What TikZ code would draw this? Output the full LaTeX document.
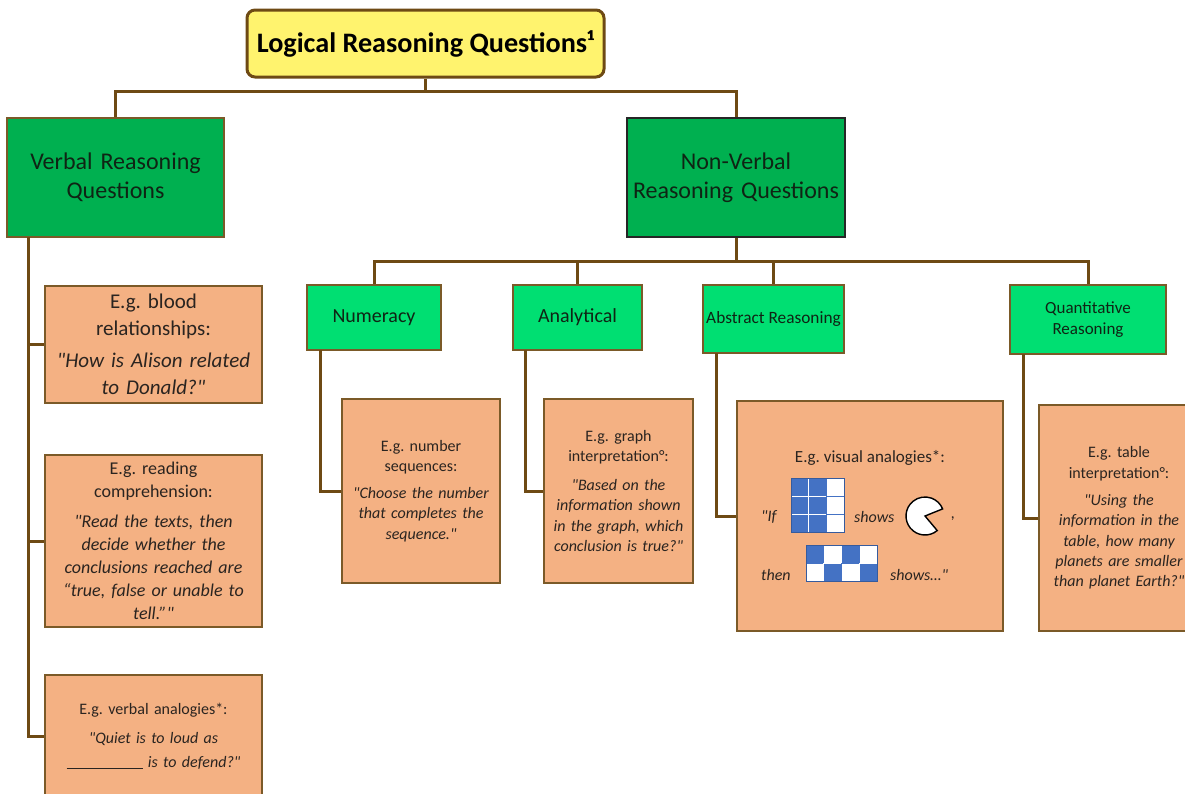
\documentclass[tikz,border=0pt]{standalone}
\usepackage{fontspec}
\setmainfont{Carlito}[Ligatures=TeXOff]
\frenchspacing
\definecolor{conncol}{HTML}{6E4A14}
\definecolor{boxbrown}{HTML}{7B5A28}
\definecolor{titlefill}{HTML}{FFF36E}
\definecolor{greenA}{HTML}{00B050}
\definecolor{greenB}{HTML}{00DF72}
\definecolor{orangeA}{HTML}{F4B183}
\definecolor{txtgreen}{HTML}{0F2414}
\definecolor{txtdark}{HTML}{2A2420}
\definecolor{cellblue}{HTML}{4472C4}
\tikzset{
  conn/.style={draw=conncol, line width=3pt},
  topbox/.style={draw=conncol, line width=3pt, fill=titlefill, rounded corners=8pt, inner sep=0pt,
    font=\fontsize{28.2}{33}\selectfont\bfseries, text=black},
  lvlone/.style={fill=greenA, line width=1.5pt, align=center, inner sep=0pt,
    font=\fontsize{24}{29}\selectfont, text=txtgreen},
  lvltwo/.style={fill=greenB, draw=boxbrown, line width=1.5pt, align=center, inner sep=0pt, text=txtgreen},
  exbox/.style={fill=orangeA, draw=boxbrown, line width=2pt, align=center, inner sep=0pt, text=txtdark},
  freetext/.style={inner sep=0pt, text=txtdark},
  bluecell/.style={fill=cellblue, draw=white, line width=0.8pt},
  whitecell/.style={fill=white, draw=white, line width=0.8pt},
}
\begin{document}
\begin{tikzpicture}[x=1pt,y=-1pt]
\useasboundingbox (0,0) rectangle (1185,793);
% title
\node[topbox, minimum width=357pt, minimum height=67pt] (title) at (425.5,43.5) {Logical Reasoning Questions¹};
% level one
\node[lvlone, draw=boxbrown, minimum width=217pt, minimum height=119pt, text width=210pt] (verbal) at (115.5,177.5) {Verbal Reasoning\\Questions};
\node[lvlone, draw=black!85, minimum width=218pt, minimum height=119pt, text width=214pt] (nonverbal) at (736,177.5) {Non-Verbal\\Reasoning Questions};
% level two
\node[lvltwo, minimum width=134pt, minimum height=65pt, font=\fontsize{20}{24}\selectfont] (numeracy) at (374,317.5) {Numeracy};
\node[lvltwo, minimum width=129pt, minimum height=65pt, font=\fontsize{20}{24}\selectfont] (analytical) at (577.5,317.5) {Analytical};
\node[lvltwo, minimum width=141pt, minimum height=68pt, font=\fontsize{17.3}{20}\selectfont] (abstract) at (773.5,319) {Abstract Reasoning};
\node[lvltwo, minimum width=156pt, minimum height=69pt, text width=150pt, font=\fontsize{17}{21}\selectfont] (quant) at (1088,319.5) {Quantitative\\Reasoning};
% verbal examples
\node[exbox, minimum width=217pt, minimum height=117pt, text width=212pt, font=\fontsize{21}{27}\selectfont] (blood) at (153.5,344.5)
  {E.g. blood\\relationships:\\[5pt]\itshape "How is Alison related\\to Donald?"};
\node[exbox, minimum width=217pt, minimum height=172pt, text width=212pt, font=\fontsize{18}{23}\selectfont] (reading) at (153.5,541)
  {E.g. reading\\comprehension:\\[7pt]\itshape "Read the texts, then\\decide whether the\\conclusions reached are\\“true, false or unable to\\tell.”"};
\node[exbox, minimum width=217pt, minimum height=122pt, text width=212pt, font=\fontsize{16}{24}\selectfont] (analog) at (153.5,736)
  {E.g. verbal analogies*:\\[5pt]\itshape "Quiet is to loud as\\\rule[-1pt]{76pt}{0.7pt} is to defend?"};
% non-verbal examples
\node[exbox, minimum width=158pt, minimum height=184pt, text width=154pt, font=\fontsize{16}{20.5}\selectfont] (numex) at (421,491)
  {E.g. number\\sequences:\\[6pt]\itshape "Choose the number\\that completes the\\sequence."};
\node[exbox, minimum width=149pt, minimum height=184pt, text width=145pt, font=\fontsize{16}{20.5}\selectfont] (anex) at (618.5,491)
  {E.g. graph\\interpretation°:\\[8pt]\itshape "Based on the\\information shown\\in the graph, which\\conclusion is true?"};
\node[exbox, minimum width=266pt, minimum height=230pt] (absex) at (870,516) {};
\node[exbox, minimum width=160pt, minimum height=226pt, text width=154pt, font=\fontsize{16}{20.3}\selectfont, anchor=west] (quantex) at (1038,518)
  {E.g. table\\interpretation°:\\[7pt]\itshape "Using the\\information in the\\table, how many\\planets are smaller\\than planet Earth?"};
% abstract example content
\node[freetext, font=\fontsize{17}{20}\selectfont] (abstitle) at (870,458) {E.g. visual analogies*:};
\node[freetext, font=\fontsize{16}{20}\selectfont\itshape, anchor=west] (ifw) at (761,517) {"If};
\node[freetext, font=\fontsize{16}{20}\selectfont\itshape, anchor=west] (shows1) at (854,517) {shows};
\node[freetext, font=\fontsize{16}{20}\selectfont\itshape, anchor=west] (comma) at (951,519) {,};
\node[freetext, font=\fontsize{16}{20}\selectfont\itshape, anchor=west] (then) at (761,575) {then};
\node[freetext, font=\fontsize{16}{20}\selectfont\itshape, anchor=west] (shows2) at (890,575) {shows…"};
% grid 1 (3x3, two blue columns)
\foreach \r in {0,1,2}{
  \foreach \c in {0,1}{
    \path[bluecell] (791+\c*17.67,478+\r*18) rectangle ++(17.67,18);
  }
  \path[whitecell] (791+2*17.67,478+\r*18) rectangle ++(17.67,18);
  \draw[cellblue, line width=0.8pt] (791+2*17.67,478+\r*18) rectangle ++(17.67,18);
}
\draw[cellblue!80!black, line width=1pt] (791,478) rectangle (844,532);
% pie
\draw[fill=white, line width=1.4pt] (925,516) -- ++(50:19) arc[start angle=50, end angle=338, radius=19] -- cycle;
% grid 2 (4x2 checker)
\foreach \c in {0,1,2,3}{
  \foreach \r in {0,1}{
    \pgfmathtruncatemacro{\parity}{mod(\c+\r,2)}
    \ifnum\parity=0
      \path[bluecell] (806+\c*17.75,545+\r*18) rectangle ++(17.75,18);
    \else
      \path[whitecell] (806+\c*17.75,545+\r*18) rectangle ++(17.75,18);
      \draw[cellblue, line width=0.8pt] (806+\c*17.75,545+\r*18) rectangle ++(17.75,18);
    \fi
  }
}
\draw[cellblue!80!black, line width=1pt] (806,545) rectangle (877,581);
% connectors
\coordinate (tjoin) at (425.5,91);
\draw[conn] (title.south) -- (tjoin);
\draw[conn] (tjoin) -| (verbal.north);
\draw[conn] (tjoin) -| (nonverbal.north);
\coordinate (njoin) at (736,261);
\draw[conn] (nonverbal.south) -- (njoin);
\draw[conn] (njoin) -| (numeracy.north);
\draw[conn] (njoin) -| (analytical.north);
\draw[conn] (njoin) -| (abstract.north);
\draw[conn] (njoin) -| (quant.north);
\coordinate (vtrunk) at (28,237);
\draw[conn] (vtrunk) |- (blood.west);
\draw[conn] (vtrunk) |- (reading.west);
\draw[conn] (vtrunk) |- (analog.west);
\coordinate (numtrunk) at (320,350);
\draw[conn] (numtrunk) |- (numex.west);
\coordinate (antrunk) at (525,350);
\draw[conn] (antrunk) |- (anex.west);
\coordinate (abtrunk) at (716,353);
\draw[conn] (abtrunk) |- (absex.west);
\coordinate (qtrunk) at (1023,354);
\draw[conn] (qtrunk) |- (quantex.west);
\end{tikzpicture}
\end{document}
